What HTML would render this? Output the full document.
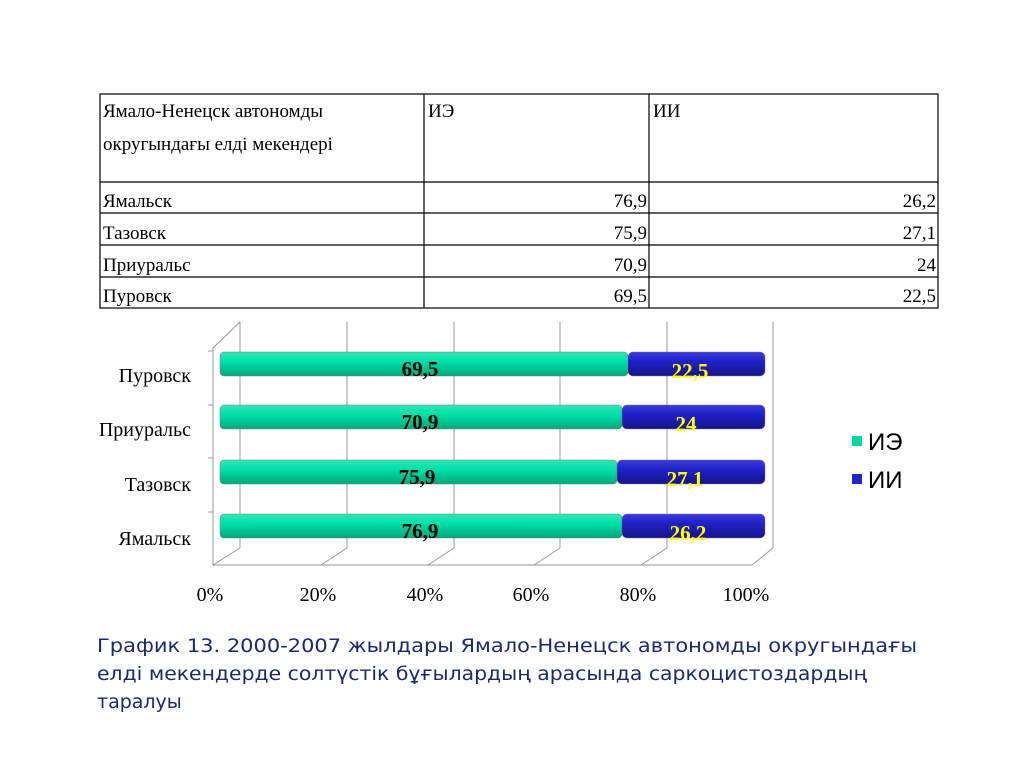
<!DOCTYPE html>
<html><head><meta charset="utf-8"><style>body{margin:0;background:#fff}svg{display:block}</style></head><body>
<svg width="1024" height="767" viewBox="0 0 1024 767" xmlns="http://www.w3.org/2000/svg">
<defs>
<linearGradient id="g" x1="0" y1="0" x2="0" y2="1"><stop offset="0" stop-color="#2fe8b8"/><stop offset="0.4" stop-color="#00e0a8"/><stop offset="1" stop-color="#00a87a"/></linearGradient>
<linearGradient id="b" x1="0" y1="0" x2="0" y2="1"><stop offset="0" stop-color="#3a3ae0"/><stop offset="0.4" stop-color="#2020c8"/><stop offset="1" stop-color="#14148a"/></linearGradient>
</defs>
<g font-family="Liberation Serif, serif" font-size="19" fill="#000">
<g stroke="#000" stroke-width="1.2" fill="none">
<rect x="100" y="94" width="838" height="214"/>
<line x1="100" y1="182" x2="938" y2="182"/><line x1="100" y1="213" x2="938" y2="213"/><line x1="100" y1="245" x2="938" y2="245"/><line x1="100" y1="277" x2="938" y2="277"/>
<line x1="424" y1="94" x2="424" y2="308"/><line x1="649" y1="94" x2="649" y2="308"/>
</g>
<text x="103" y="117">Ямало-Ненецск автономды</text>
<text x="103" y="150">округындағы елді мекендері</text>
<text x="428" y="117">ИЭ</text><text x="653" y="117">ИИ</text>
<text x="103" y="207">Ямальск</text><text x="103" y="239">Тазовск</text><text x="103" y="271">Приуральс</text><text x="103" y="302">Пуровск</text>
<g text-anchor="end"><text x="647" y="207">76,9</text><text x="647" y="239">75,9</text><text x="647" y="271">70,9</text><text x="647" y="302">69,5</text>
<text x="936" y="207">26,2</text><text x="936" y="239">27,1</text><text x="936" y="271">24</text><text x="936" y="302">22,5</text></g>
</g>
<g stroke="#999" stroke-width="1" fill="none">
<line x1="240" y1="322" x2="240" y2="548"/><line x1="347" y1="322" x2="347" y2="548"/><line x1="454" y1="322" x2="454" y2="548"/><line x1="560" y1="322" x2="560" y2="548"/><line x1="667" y1="322" x2="667" y2="548"/><line x1="773" y1="322" x2="773" y2="548"/>
<line x1="213" y1="348" x2="240" y2="322"/><line x1="213" y1="565" x2="240" y2="548"/>
<line x1="321" y1="565" x2="347" y2="548"/><line x1="428" y1="565" x2="454" y2="548"/><line x1="534" y1="565" x2="560" y2="548"/><line x1="641" y1="565" x2="667" y2="548"/><line x1="752" y1="565" x2="773" y2="548"/>
<line x1="213" y1="348" x2="213" y2="565"/><line x1="213" y1="565" x2="752" y2="565"/>
<line x1="208" y1="351" x2="213" y2="351"/><line x1="208" y1="405" x2="213" y2="405"/><line x1="208" y1="458" x2="213" y2="458"/><line x1="208" y1="512" x2="213" y2="512"/>
</g>
<g stroke="#7a7a7a" stroke-width="0.5">
<rect x="220" y="352" width="408" height="24" rx="4" fill="url(#g)"/><rect x="628" y="352" width="137" height="24" rx="5" fill="url(#b)"/>
<rect x="220" y="405" width="402" height="24" rx="4" fill="url(#g)"/><rect x="622" y="405" width="143" height="24" rx="5" fill="url(#b)"/>
<rect x="220" y="460" width="397" height="24" rx="4" fill="url(#g)"/><rect x="617" y="460" width="148" height="24" rx="5" fill="url(#b)"/>
<rect x="220" y="514" width="402" height="24" rx="4" fill="url(#g)"/><rect x="622" y="514" width="143" height="24" rx="5" fill="url(#b)"/>
</g>
<g font-family="Liberation Serif, serif" font-size="21" font-weight="bold" text-anchor="middle">
<text x="420" y="376">69,5</text><text x="420" y="429">70,9</text><text x="417" y="484">75,9</text><text x="420" y="538">76,9</text>
<g fill="#ffff00"><text x="690" y="378">22,5</text><text x="686" y="431">24</text><text x="685" y="486">27,1</text><text x="688" y="540">26,2</text></g>
</g>
<g font-family="Liberation Serif, serif" font-size="20" text-anchor="end">
<text x="191" y="382">Пуровск</text><text x="191" y="436">Приуральс</text><text x="191" y="491">Тазовск</text><text x="191" y="545">Ямальск</text>
</g>
<g font-family="Liberation Serif, serif" font-size="20" text-anchor="middle">
<text x="210" y="601">0%</text><text x="318" y="601">20%</text><text x="425" y="601">40%</text><text x="531" y="601">60%</text><text x="638" y="601">80%</text><text x="746" y="601">100%</text>
</g>
<rect x="852" y="436" width="10" height="10" fill="#00d8a0"/><rect x="852" y="474" width="10" height="10" fill="#2323c8"/>
<g font-family="Liberation Sans, sans-serif" font-size="24"><text x="868" y="450">ИЭ</text><text x="868" y="488">ИИ</text></g>
<g font-family="DejaVu Sans, sans-serif" font-size="19" fill="#1a2a6c">
<text x="97" y="652" textLength="820" lengthAdjust="spacingAndGlyphs">График 13. 2000-2007 жылдары Ямало-Ненецск автономды округындағы</text>
<text x="97" y="680" textLength="770" lengthAdjust="spacingAndGlyphs">елді мекендерде солтүстік бұғылардың арасында саркоцистоздардың</text>
<text x="97" y="708">таралуы</text>
</g>
</svg>
</body></html>
